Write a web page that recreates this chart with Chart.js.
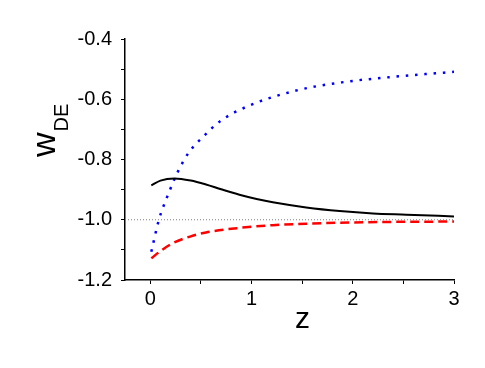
<!DOCTYPE html>
<html>
<head>
<meta charset="utf-8">
<script src="https://cdn.jsdelivr.net/npm/chart.js@4/dist/chart.umd.min.js"></script>
<style>
  html, body { margin: 0; padding: 0; background: #fff; }
  canvas { display: block; }
</style>
</head>
<body>
<canvas id="chart" width="485" height="368"></canvas>
<script>
// values
const solidZ = [0.01, 0.1, 0.24, 0.4, 0.55, 0.7, 0.88, 1.05, 1.21, 1.54, 1.87, 2.2, 2.53, 3.0];
const solidW = [-0.886, -0.870, -0.863, -0.870, -0.883, -0.899, -0.917, -0.931, -0.942, -0.959, -0.971, -0.979, -0.983, -0.989];

const dashZ = [0.01, 0.1, 0.22, 0.4, 0.55, 0.88, 1.21, 1.54, 1.87, 2.4, 3.0];
const dashW = [-1.128, -1.104, -1.078, -1.055, -1.042, -1.027, -1.018, -1.013, -1.010, -1.007, -1.006];

const dotZ = [0.01, 0.085, 0.175, 0.27, 0.38, 0.53, 0.69, 0.97, 1.43, 1.89, 2.45, 3.0];
const dotW = [-1.106, -1.0, -0.917, -0.842, -0.777, -0.722, -0.673, -0.622, -0.572, -0.544, -0.524, -0.509];

const refZ = [-0.25, 3.0];
const refW = [-1.0, -1.0];

const xTicks = [0, 0.5, 1, 1.5, 2, 2.5, 3];
const xLabels = ['0', '', '1', '', '2', '', '3'];
const yTicks = [-1.2, -1.1, -1.0, -0.9, -0.8, -0.7, -0.6, -0.5, -0.4];
const yLabels = ['-1.2', '', '-1.0', '', '-0.8', '', '-0.6', '', '-0.4'];

const pts = (xs, ys) => xs.map((x, i) => ({ x: x, y: ys[i] }));

const tickFont = { family: "'Liberation Sans', Arial, sans-serif", size: 20 };

// axis titles, the y one has a subscript
const titles = {
    id: 'titles',
    afterDraw(chart) {
        const ctx = chart.ctx;
        ctx.save();
        ctx.fillStyle = '#000';
        ctx.textBaseline = 'alphabetic';

        ctx.font = "30px 'Liberation Sans', Arial, sans-serif";
        ctx.textAlign = 'center';
        ctx.fillText('z', 302.5, 328);

        ctx.translate(55, 157);
        ctx.rotate(-Math.PI / 2);
        ctx.textAlign = 'left';
        ctx.font = "34px 'Liberation Sans', Arial, sans-serif";
        ctx.fillText('w', 0, 0);
        const ww = ctx.measureText('w').width;
        ctx.font = "20px 'Liberation Sans', Arial, sans-serif";
        ctx.fillText('DE', ww + 1, 13);
        ctx.restore();
    }
};

new Chart(document.getElementById('chart'), {
    type: 'line',
    data: {
        datasets: [
            {
                data: pts(refZ, refW),
                borderColor: '#808080',
                borderWidth: 1,
                borderDash: [1, 2],
                pointRadius: 0
            },
            {
                data: pts(solidZ, solidW),
                borderColor: '#000000',
                borderWidth: 2,
                pointRadius: 0,
                cubicInterpolationMode: 'monotone'
            },
            {
                data: pts(dashZ, dashW),
                borderColor: '#ff0000',
                borderWidth: 2.5,
                borderDash: [9, 5],
                pointRadius: 0,
                cubicInterpolationMode: 'monotone'
            },
            {
                data: pts(dotZ, dotW),
                borderColor: '#0000ff',
                borderWidth: 2.5,
                borderDash: [2.5, 6.8],
                pointRadius: 0,
                cubicInterpolationMode: 'monotone'
            }
        ]
    },
    options: {
        responsive: false,
        animation: false,
        layout: { padding: { top: 39, right: 31, left: 0, bottom: 0 } },
        plugins: {
            legend: { display: false },
            tooltip: { enabled: false }
        },
        scales: {
            x: {
                type: 'linear',
                min: -0.25,
                max: 3,
                afterBuildTicks: s => { s.ticks = xTicks.map(v => ({ value: v })); },
                afterFit: s => { s.height = 88; },
                border: { color: '#000', width: 1.5 },
                grid: { drawOnChartArea: false, drawTicks: true, tickLength: 4, color: '#000', tickColor: '#000' },
                ticks: {
                    color: '#000',
                    font: tickFont,
                    padding: 3,
                    maxRotation: 0,
                    autoSkip: false,
                    callback: (v, i) => xLabels[i]
                }
            },
            y: {
                type: 'linear',
                min: -1.2,
                max: -0.4,
                afterBuildTicks: s => { s.ticks = yTicks.map(v => ({ value: v })); },
                afterFit: s => { s.width = 125; },
                border: { color: '#000', width: 1.5 },
                grid: { drawOnChartArea: false, drawTicks: true, tickLength: 4, color: '#000', tickColor: '#000' },
                ticks: {
                    color: '#000',
                    font: tickFont,
                    padding: 9,
                    autoSkip: false,
                    callback: (v, i) => yLabels[i]
                }
            }
        }
    },
    plugins: [titles]
});
</script>
</body>
</html>
